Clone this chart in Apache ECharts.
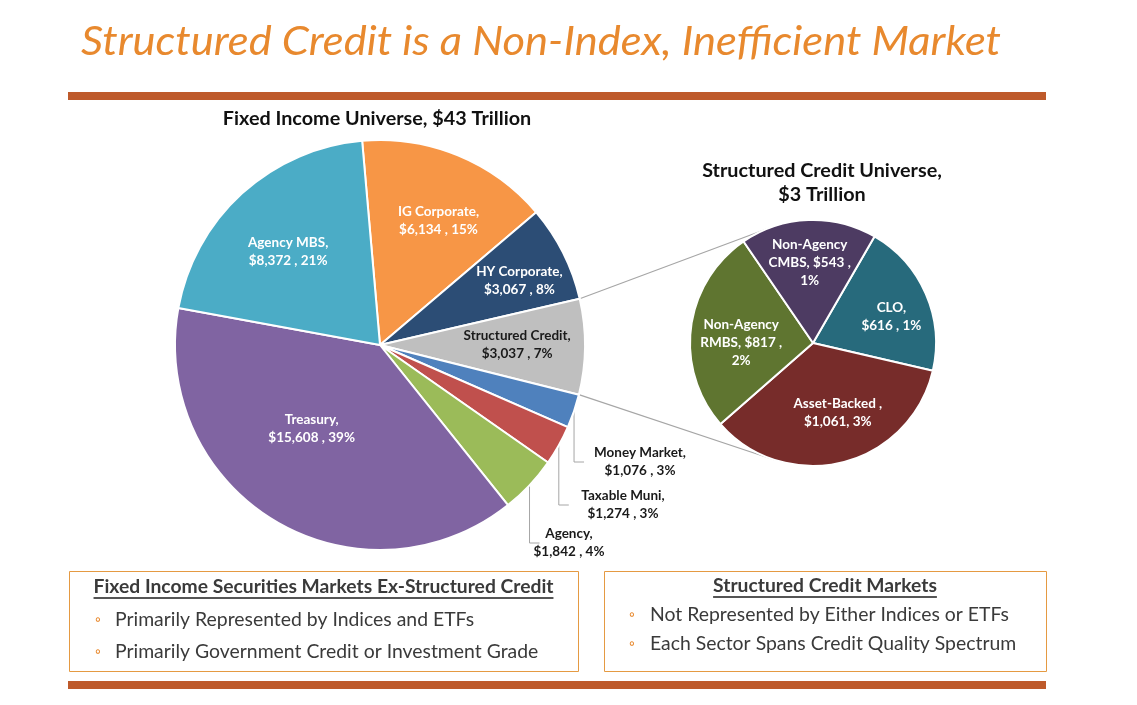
<!DOCTYPE html>
<html><head><meta charset="utf-8">
<script src="https://cdn.jsdelivr.net/npm/echarts@6/dist/echarts.min.js"></script>
<style>html,body{margin:0;padding:0;background:#fff}#c{width:1137px;height:705px}</style>
</head><body><div id="c"></div>
<script>
// ---------- DATA ----------
const pageTitle = 'Structured Credit is a Non-Index, Inefficient Market';
const bigTitle = 'Fixed Income Universe, $43 Trillion';
const smallTitle = 'Structured Credit Universe,\n$3 Trillion';
const bigNames = ['IG Corporate','HY Corporate','Structured Credit','Money Market','Taxable Muni','Agency','Treasury','Agency MBS'];
const bigValues = [6134,3067,3037,1076,1274,1842,15608,8372];
const bigPct = ['15%','8%','7%','3%','3%','4%','39%','21%'];
const scNames = ['CLO','Asset-Backed','Non-Agency RMBS','Non-Agency CMBS'];
const scValues = [616,1061,817,543];
const scPct = ['1%','3%','2%','1%'];
const leftBoxTitle = 'Fixed Income Securities Markets Ex-Structured Credit';
const leftBullets = ['Primarily Represented by Indices and ETFs','Primarily Government Credit or Investment Grade'];
const rightBoxTitle = 'Structured Credit Markets';
const rightBullets = ['Not Represented by Either Indices or ETFs','Each Sector Spans Credit Quality Spectrum'];

// ---------- STYLE ----------
const bigColors = ['#F79646','#2C4D75','#BFBFBF','#4F81BD','#C0504D','#9BBB59','#8064A2','#4BACC6'];
const bigLabelColors = ['#fff','#fff','#1a1a1a','#1a1a1a','#1a1a1a','#1a1a1a','#fff','#fff'];
const scColors = ['#276A7C','#772C2A','#5F7530','#4D3B62'];
const BIG = {cx:380, cy:345, r:205, start:95};
const SM = {cx:813, cy:343, r:123, start:60};
const bigInsideRatio = {0:0.68,1:0.75,2:0.65,6:0.52,7:0.64};
const bigInsideShift = {0:[4,8],1:[-2,7],2:[0,-2],6:[-12,-11],7:[-1,7]};
const bigOutsidePos = {3:[640,462],4:[623,505],5:[569,543]};
const smRatio = [0.62,0.6,0.6,0.67];
const smShift = [[5,6],[6,-5],[5,9],[0,6]];
const FONT = 'Lato, "Open Sans", sans-serif';
const ORANGE = '#E8892E', BAR = '#BE5A2B', BOXC = '#E59A42', TXT = '#3a3a3a';

const fmt = v => '$' + v.toLocaleString('en-US');

const bigData = bigNames.map((n,i) => {
  const item = {name:n, value:bigValues[i], itemStyle:{color:bigColors[i]},
    label:{color:bigLabelColors[i]}};
  if (bigOutsidePos[i]) { item.label.position = 'outside'; item.labelLine = {show:true}; }
  return item;
});
const smData = scNames.map((n,i)=>({name:n, value:scValues[i], itemStyle:{color:scColors[i]}}));

// measure text
const mctx = document.createElement('canvas').getContext('2d');
function tw(font, s){ mctx.font = font; return mctx.measureText(s).width; }

// connector lines: from structured credit slice edges, tangent to small pie
const total = bigValues.reduce((a,b)=>a+b,0);
const scIdx = bigNames.indexOf('Structured Credit');
let cum = 0; for (let i=0;i<scIdx;i++) cum += bigValues[i];
const a0 = (90-BIG.start) + cum/total*360;
const a1 = a0 + bigValues[scIdx]/total*360;
const pt = (c,r,deg)=>[c.cx + r*Math.sin(deg*Math.PI/180), c.cy - r*Math.cos(deg*Math.PI/180)];
function tangent(p, sign){
  const dx = p[0]-SM.cx, dy = p[1]-SM.cy, d = Math.hypot(dx,dy);
  const th = Math.atan2(dx, -dy)*180/Math.PI;
  const off = Math.acos(SM.r/d)*180/Math.PI;
  return pt(SM, SM.r, th + sign*off);
}
const pA = pt(BIG, BIG.r, a0), pB = pt(BIG, BIG.r, a1);
const tA = tangent(pA, 1), tB = tangent(pB, -1);

// graphic elements
const graphics = [];
const titleFont = 'italic 40px ' + FONT;
const tWidth = tw(titleFont, pageTitle);
graphics.push({type:'text', x:81, y:22, scaleX: 920/tWidth, z:10,
  style:{text:pageTitle, font:titleFont, fill:ORANGE}});
graphics.push({type:'rect', shape:{x:68,y:92,width:978,height:8}, style:{fill:BAR}});
graphics.push({type:'rect', shape:{x:68,y:681,width:978,height:8}, style:{fill:BAR}});
graphics.push({type:'polyline', z:1, shape:{points:[pA,tA]}, style:{stroke:'#A6A6A6', lineWidth:1.2}});
graphics.push({type:'polyline', z:1, shape:{points:[pB,tB]}, style:{stroke:'#A6A6A6', lineWidth:1.2}});

function box(x,y,w,h,title,titleY,bullets,bx,tx,by,dy){
  graphics.push({type:'rect', shape:{x:x+0.5,y:y+0.5,width:w,height:h}, style:{fill:'#fff', stroke:BOXC, lineWidth:1}});
  const tf = 'bold 19.3px ' + FONT;
  const w0 = tw(tf, title), cx = x + w/2;
  graphics.push({type:'text', x:cx, y:titleY, style:{text:title, font:tf, fill:TXT, align:'center', verticalAlign:'middle'}});
  graphics.push({type:'line', shape:{x1:cx-w0/2, y1:titleY+11, x2:cx+w0/2, y2:titleY+11}, style:{stroke:'#555', lineWidth:2}});
  bullets.forEach((b,i)=>{
    graphics.push({type:'text', x:bx, y:by+i*dy, style:{text:'◦', font:'16px '+FONT, fill:ORANGE, align:'center', verticalAlign:'middle'}});
    graphics.push({type:'text', x:tx, y:by+i*dy, style:{text:b, font:'19.4px '+FONT, fill:TXT, align:'left', verticalAlign:'middle'}});
  });
}
box(69,571,509,100,leftBoxTitle,587,leftBullets,98,115,620,32);
box(604,571,442,100,rightBoxTitle,586,rightBullets,632,650,615,29);

const chart = echarts.init(document.getElementById('c'), null, {renderer:'canvas'});
chart.setOption({
  animation:false,
  backgroundColor:'#fff',
  title:[
    {text:bigTitle, left:372, top:104, textAlign:'center', textStyle:{fontFamily:FONT, fontWeight:'bold', fontSize:19.8, color:'#111'}},
    {text:smallTitle, left:817, top:154, textAlign:'center', textStyle:{fontFamily:FONT, fontWeight:'bold', fontSize:19.8, color:'#111', lineHeight:24}}
  ],
  graphic: graphics,
  series:[
    {type:'pie', center:[BIG.cx,BIG.cy], radius:[0,BIG.r], startAngle:BIG.start, avoidLabelOverlap:false,
     itemStyle:{borderColor:'#fff', borderWidth:2},
     label:{show:true, position:'inside', fontFamily:FONT, fontWeight:'bold', fontSize:13.5, lineHeight:18,
       formatter: p => p.name + ',\n' + fmt(p.value) + ' , ' + bigPct[p.dataIndex]},
     labelLine:{show:false, lineStyle:{color:'#A6A6A6', width:1}},
     labelLayout: function(p){
       const i = p.dataIndex;
       if (bigOutsidePos[i]) {
         const pos = bigOutsidePos[i];
         const res = {x:pos[0], y:pos[1], align:'center', verticalAlign:'middle'};
         if (p.labelLinePoints) {
           const p0 = p.labelLinePoints[0];
           res.labelLinePoints = [p0, [p0[0], pos[1]], [p0[0]+10, pos[1]]];
         }
         return res;
       }
       const r = p.labelRect, lx = r.x + r.width/2, ly = r.y + r.height/2;
       const k = (bigInsideRatio[i]||0.6)/0.5;
       const s = bigInsideShift[i] || [0,0];
       return {x: BIG.cx + (lx-BIG.cx)*k + s[0], y: BIG.cy + (ly-BIG.cy)*k + s[1], align:'center', verticalAlign:'middle'};
     },
     data: bigData},
    {type:'pie', center:[SM.cx,SM.cy], radius:[0,SM.r], startAngle:SM.start, avoidLabelOverlap:false,
     itemStyle:{borderColor:'#fff', borderWidth:2},
     label:{show:true, position:'inside', color:'#fff', fontFamily:FONT, fontWeight:'bold', fontSize:13.5, lineHeight:18,
       formatter: p => {
         const i = p.dataIndex, v = fmt(p.value);
         if (p.name.indexOf('Non-Agency ')===0) return 'Non-Agency\n' + p.name.slice(11) + ', ' + v + ' ,\n' + scPct[i];
         if (p.name==='Asset-Backed') return p.name + ' ,\n' + v + ', ' + scPct[i];
         return p.name + ',\n' + v + ' , ' + scPct[i];
       }},
     labelLine:{show:false},
     labelLayout: function(p){
       const r = p.labelRect, lx = r.x + r.width/2, ly = r.y + r.height/2;
       const k = smRatio[p.dataIndex]/0.5;
       const s = smShift[p.dataIndex];
       return {x: SM.cx + (lx-SM.cx)*k + s[0], y: SM.cy + (ly-SM.cy)*k + s[1], align:'center', verticalAlign:'middle'};
     },
     data: smData}
  ]
});
</script></body></html>
